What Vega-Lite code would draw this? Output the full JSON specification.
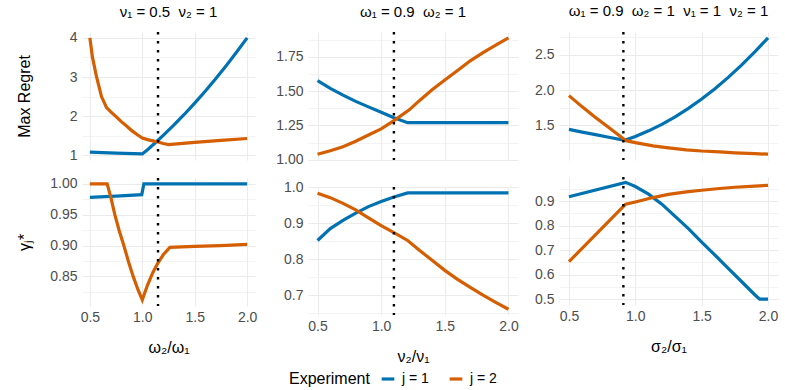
{
  "$schema": "https://vega.github.io/schema/vega-lite/v6.json",
  "padding": {"left": 16, "top": 4, "right": 4, "bottom": 4},
  "background": "white",
  "config": {
    "font": "Liberation Sans",
    "view": {"stroke": null},
    "axis": {"gridColor": "#EBEBEB", "domain": false, "ticks": false, "labelColor": "#4D4D4D", "labelFontSize": 14, "titleFontSize": 16, "titleFontWeight": "normal", "titleColor": "#000000", "labelPadding": 5, "labelOverlap": false, "labelFlush": false},
    "axisX": {"labelPadding": 4},
    "title": {"fontSize": 15, "fontWeight": "normal", "color": "#000000", "anchor": "middle", "frame": "group", "offset": 11},
    "legend": {"orient": "none", "legendX": 207, "legendY": 339, "direction": "horizontal", "titleOrient": "left", "titleFontSize": 16, "titleFontWeight": "normal", "titleColor": "#000000", "labelFontSize": 14, "labelColor": "#000000", "symbolType": "stroke", "symbolStrokeWidth": 3.2, "symbolSize": 160, "columnPadding": 14, "titlePadding": 10, "titleBaseline": "middle", "labelOffset": 6}
  },
  "datasets": {
    "A_top": [
      {"x": 0.5, "y": 1.08, "j": "j = 1"}, {"x": 0.75, "y": 1.055, "j": "j = 1"}, {"x": 1.0, "y": 1.035, "j": "j = 1"},
      {"x": 1.05, "y": 1.144, "j": "j = 1"}, {"x": 1.1, "y": 1.262, "j": "j = 1"}, {"x": 1.15, "y": 1.383, "j": "j = 1"},
      {"x": 1.2, "y": 1.508, "j": "j = 1"}, {"x": 1.3, "y": 1.768, "j": "j = 1"}, {"x": 1.4, "y": 2.043, "j": "j = 1"},
      {"x": 1.5, "y": 2.333, "j": "j = 1"}, {"x": 1.6, "y": 2.637, "j": "j = 1"}, {"x": 1.7, "y": 2.956, "j": "j = 1"},
      {"x": 1.8, "y": 3.29, "j": "j = 1"}, {"x": 1.9, "y": 3.638, "j": "j = 1"}, {"x": 2.0, "y": 4.0, "j": "j = 1"},
      {"x": 0.5, "y": 4.0, "j": "j = 2"}, {"x": 0.525, "y": 3.5, "j": "j = 2"}, {"x": 0.564, "y": 3.0, "j": "j = 2"},
      {"x": 0.611, "y": 2.5, "j": "j = 2"}, {"x": 0.659, "y": 2.22, "j": "j = 2"}, {"x": 0.7, "y": 2.11, "j": "j = 2"},
      {"x": 0.75, "y": 1.99, "j": "j = 2"}, {"x": 0.8, "y": 1.86, "j": "j = 2"}, {"x": 0.85, "y": 1.75, "j": "j = 2"},
      {"x": 0.9, "y": 1.63, "j": "j = 2"}, {"x": 0.95, "y": 1.53, "j": "j = 2"}, {"x": 1.0, "y": 1.44, "j": "j = 2"},
      {"x": 1.05, "y": 1.40, "j": "j = 2"}, {"x": 1.1, "y": 1.37, "j": "j = 2"}, {"x": 1.15, "y": 1.34, "j": "j = 2"},
      {"x": 1.2, "y": 1.30, "j": "j = 2"}, {"x": 1.25, "y": 1.275, "j": "j = 2"}, {"x": 1.5, "y": 1.33, "j": "j = 2"},
      {"x": 1.75, "y": 1.38, "j": "j = 2"}, {"x": 2.0, "y": 1.43, "j": "j = 2"}
    ],
    "A_bot": [
      {"x": 0.5, "y": 0.978, "j": "j = 1"}, {"x": 0.75, "y": 0.980, "j": "j = 1"}, {"x": 0.995, "y": 0.9825, "j": "j = 1"},
      {"x": 1.015, "y": 1.0, "j": "j = 1"}, {"x": 2.0, "y": 1.0, "j": "j = 1"},
      {"x": 0.5, "y": 1.0, "j": "j = 2"}, {"x": 0.665, "y": 1.0, "j": "j = 2"}, {"x": 0.7, "y": 0.978, "j": "j = 2"},
      {"x": 0.738, "y": 0.95, "j": "j = 2"}, {"x": 0.78, "y": 0.924, "j": "j = 2"}, {"x": 0.824, "y": 0.90, "j": "j = 2"},
      {"x": 0.87, "y": 0.873, "j": "j = 2"}, {"x": 0.913, "y": 0.85, "j": "j = 2"}, {"x": 0.96, "y": 0.828, "j": "j = 2"},
      {"x": 1.0, "y": 0.812, "j": "j = 2"}, {"x": 1.05, "y": 0.836, "j": "j = 2"}, {"x": 1.1, "y": 0.856, "j": "j = 2"},
      {"x": 1.15, "y": 0.872, "j": "j = 2"}, {"x": 1.2, "y": 0.885, "j": "j = 2"}, {"x": 1.263, "y": 0.897, "j": "j = 2"},
      {"x": 1.5, "y": 0.8985, "j": "j = 2"}, {"x": 1.75, "y": 0.900, "j": "j = 2"}, {"x": 2.0, "y": 0.902, "j": "j = 2"}
    ],
    "B_top": [
      {"x": 0.5, "y": 1.576, "j": "j = 1"}, {"x": 0.6, "y": 1.52, "j": "j = 1"}, {"x": 0.7, "y": 1.47, "j": "j = 1"},
      {"x": 0.8, "y": 1.425, "j": "j = 1"}, {"x": 0.9, "y": 1.385, "j": "j = 1"}, {"x": 1.0, "y": 1.345, "j": "j = 1"},
      {"x": 1.1, "y": 1.305, "j": "j = 1"}, {"x": 1.208, "y": 1.27, "j": "j = 1"}, {"x": 2.0, "y": 1.27, "j": "j = 1"},
      {"x": 0.5, "y": 1.04, "j": "j = 2"}, {"x": 0.6, "y": 1.065, "j": "j = 2"}, {"x": 0.7, "y": 1.095, "j": "j = 2"},
      {"x": 0.8, "y": 1.135, "j": "j = 2"}, {"x": 0.9, "y": 1.18, "j": "j = 2"}, {"x": 1.0, "y": 1.225, "j": "j = 2"},
      {"x": 1.1, "y": 1.285, "j": "j = 2"}, {"x": 1.221, "y": 1.363, "j": "j = 2"}, {"x": 1.3, "y": 1.43, "j": "j = 2"},
      {"x": 1.4, "y": 1.51, "j": "j = 2"}, {"x": 1.5, "y": 1.58, "j": "j = 2"}, {"x": 1.6, "y": 1.65, "j": "j = 2"},
      {"x": 1.7, "y": 1.72, "j": "j = 2"}, {"x": 1.8, "y": 1.78, "j": "j = 2"}, {"x": 1.9, "y": 1.835, "j": "j = 2"},
      {"x": 2.0, "y": 1.888, "j": "j = 2"}
    ],
    "B_bot": [
      {"x": 0.5, "y": 0.852, "j": "j = 1"}, {"x": 0.6, "y": 0.885, "j": "j = 1"}, {"x": 0.7, "y": 0.908, "j": "j = 1"},
      {"x": 0.8, "y": 0.928, "j": "j = 1"}, {"x": 0.9, "y": 0.946, "j": "j = 1"}, {"x": 1.0, "y": 0.96, "j": "j = 1"},
      {"x": 1.1, "y": 0.973, "j": "j = 1"}, {"x": 1.208, "y": 0.984, "j": "j = 1"}, {"x": 2.0, "y": 0.984, "j": "j = 1"},
      {"x": 0.5, "y": 0.983, "j": "j = 2"}, {"x": 0.6, "y": 0.971, "j": "j = 2"}, {"x": 0.7, "y": 0.955, "j": "j = 2"},
      {"x": 0.8, "y": 0.937, "j": "j = 2"}, {"x": 0.9, "y": 0.915, "j": "j = 2"}, {"x": 1.0, "y": 0.893, "j": "j = 2"},
      {"x": 1.1, "y": 0.874, "j": "j = 2"}, {"x": 1.208, "y": 0.852, "j": "j = 2"}, {"x": 1.3, "y": 0.825, "j": "j = 2"},
      {"x": 1.4, "y": 0.797, "j": "j = 2"}, {"x": 1.5, "y": 0.769, "j": "j = 2"}, {"x": 1.6, "y": 0.744, "j": "j = 2"},
      {"x": 1.7, "y": 0.722, "j": "j = 2"}, {"x": 1.8, "y": 0.70, "j": "j = 2"}, {"x": 1.9, "y": 0.68, "j": "j = 2"},
      {"x": 2.0, "y": 0.661, "j": "j = 2"}
    ],
    "C_top": [
      {"x": 0.5, "y": 1.439, "j": "j = 1"}, {"x": 0.6, "y": 1.40, "j": "j = 1"}, {"x": 0.7, "y": 1.364, "j": "j = 1"},
      {"x": 0.8, "y": 1.326, "j": "j = 1"}, {"x": 0.92, "y": 1.283, "j": "j = 1"}, {"x": 1.0, "y": 1.338, "j": "j = 1"},
      {"x": 1.1, "y": 1.418, "j": "j = 1"}, {"x": 1.2, "y": 1.511, "j": "j = 1"}, {"x": 1.3, "y": 1.618, "j": "j = 1"},
      {"x": 1.4, "y": 1.739, "j": "j = 1"}, {"x": 1.5, "y": 1.873, "j": "j = 1"}, {"x": 1.6, "y": 2.02, "j": "j = 1"},
      {"x": 1.7, "y": 2.181, "j": "j = 1"}, {"x": 1.8, "y": 2.356, "j": "j = 1"}, {"x": 1.9, "y": 2.544, "j": "j = 1"},
      {"x": 2.0, "y": 2.745, "j": "j = 1"},
      {"x": 0.5, "y": 1.92, "j": "j = 2"}, {"x": 0.6, "y": 1.76, "j": "j = 2"}, {"x": 0.7, "y": 1.61, "j": "j = 2"},
      {"x": 0.8, "y": 1.465, "j": "j = 2"}, {"x": 0.93, "y": 1.278, "j": "j = 2"}, {"x": 1.0, "y": 1.25, "j": "j = 2"},
      {"x": 1.133, "y": 1.203, "j": "j = 2"}, {"x": 1.25, "y": 1.175, "j": "j = 2"}, {"x": 1.384, "y": 1.146, "j": "j = 2"},
      {"x": 1.5, "y": 1.13, "j": "j = 2"}, {"x": 1.635, "y": 1.118, "j": "j = 2"}, {"x": 1.75, "y": 1.105, "j": "j = 2"},
      {"x": 1.9, "y": 1.092, "j": "j = 2"}, {"x": 2.0, "y": 1.085, "j": "j = 2"}
    ],
    "C_bot": [
      {"x": 0.5, "y": 0.918, "j": "j = 1"}, {"x": 0.927, "y": 0.977, "j": "j = 1"}, {"x": 1.0, "y": 0.960, "j": "j = 1"},
      {"x": 1.1, "y": 0.929, "j": "j = 1"}, {"x": 1.2, "y": 0.888, "j": "j = 1"}, {"x": 1.3, "y": 0.838, "j": "j = 1"},
      {"x": 1.4, "y": 0.788, "j": "j = 1"}, {"x": 1.5, "y": 0.733, "j": "j = 1"}, {"x": 1.6, "y": 0.68, "j": "j = 1"},
      {"x": 1.7, "y": 0.626, "j": "j = 1"}, {"x": 1.8, "y": 0.572, "j": "j = 1"}, {"x": 1.9, "y": 0.518, "j": "j = 1"},
      {"x": 1.937, "y": 0.5, "j": "j = 1"}, {"x": 2.0, "y": 0.5, "j": "j = 1"},
      {"x": 0.5, "y": 0.653, "j": "j = 2"}, {"x": 0.927, "y": 0.888, "j": "j = 2"}, {"x": 1.0, "y": 0.897, "j": "j = 2"},
      {"x": 1.133, "y": 0.915, "j": "j = 2"}, {"x": 1.25, "y": 0.928, "j": "j = 2"}, {"x": 1.384, "y": 0.938, "j": "j = 2"},
      {"x": 1.5, "y": 0.945, "j": "j = 2"}, {"x": 1.635, "y": 0.952, "j": "j = 2"}, {"x": 1.75, "y": 0.957, "j": "j = 2"},
      {"x": 1.9, "y": 0.962, "j": "j = 2"}, {"x": 2.0, "y": 0.965, "j": "j = 2"}
    ]
  },
  "hconcat": [
    {
      "hconcat": [
        {
          "vconcat": [
            {
              "width": 173, "height": 128,
              "title": {"text": "ν₁ = 0.5 \u00a0ν₂ = 1"},
              "layer": [
                {"data": {"name": "A_top"}, "mark": {"type": "line", "strokeWidth": 3.2},
                 "encoding": {
                   "x": {"field": "x", "type": "quantitative", "scale": {"domain": [0.425, 2.075], "nice": false, "zero": false},
                         "axis": {"title": null, "labels": false, "values": [0.5, 0.75, 1, 1.25, 1.5, 1.75, 2], "gridWidth": {"condition": {"test": "abs(datum.value*2 - round(datum.value*2)) < 0.001", "value": 1.1}, "value": 0.6}}},
                   "y": {"field": "y", "type": "quantitative", "scale": {"domain": [0.88, 4.15], "nice": false, "zero": false},
                         "axis": {"title": "Max Regret", "titlePadding": 14, "minExtent": 36, "maxExtent": 36, "values": [1, 1.5, 2, 2.5, 3, 3.5, 4], "labelExpr": "datum.value % 1 == 0 ? format(datum.value, 'd') : ''", "gridWidth": {"condition": {"test": "datum.value % 1 == 0", "value": 1.1}, "value": 0.6}}},
                   "color": {"field": "j", "type": "nominal", "scale": {"domain": ["j = 1", "j = 2"], "range": ["#0072B2", "#D55E00"]}, "legend": {"title": "Experiment"}}
                 }},
                {"data": {"values": [{"x": 1.15}]}, "mark": {"type": "rule", "color": "black", "strokeWidth": 2.4, "strokeDash": [2.4, 6.6]},
                 "encoding": {"x": {"field": "x", "type": "quantitative"}}}
              ]
            },
            {
              "width": 173, "height": 128,
              "layer": [
                {"data": {"name": "A_bot"}, "mark": {"type": "line", "strokeWidth": 3.2},
                 "encoding": {
                   "x": {"field": "x", "type": "quantitative", "scale": {"domain": [0.425, 2.075], "nice": false, "zero": false},
                         "axis": {"title": "ω₂/ω₁", "titlePadding": 15, "values": [0.5, 0.75, 1, 1.25, 1.5, 1.75, 2], "labelExpr": "abs(datum.value*2 - round(datum.value*2)) < 0.001 ? format(datum.value, '.1f') : ''", "gridWidth": {"condition": {"test": "abs(datum.value*2 - round(datum.value*2)) < 0.001", "value": 1.1}, "value": 0.6}}},
                   "y": {"field": "y", "type": "quantitative", "scale": {"domain": [0.802, 1.0095], "nice": false, "zero": false},
                         "axis": {"title": "γⱼ*", "titlePadding": 14, "minExtent": 36, "maxExtent": 36, "values": [0.825, 0.85, 0.875, 0.9, 0.925, 0.95, 0.975, 1.0], "labelExpr": "abs(datum.value*20 - round(datum.value*20)) < 0.001 ? format(datum.value, '.2f') : ''", "gridWidth": {"condition": {"test": "abs(datum.value*20 - round(datum.value*20)) < 0.001", "value": 1.1}, "value": 0.6}}},
                   "color": {"field": "j", "type": "nominal", "scale": {"domain": ["j = 1", "j = 2"], "range": ["#0072B2", "#D55E00"]}, "legend": {"title": "Experiment"}}
                 }},
                {"data": {"values": [{"x": 1.15}]}, "mark": {"type": "rule", "color": "black", "strokeWidth": 2.4, "strokeDash": [2.4, 6.6]},
                 "encoding": {"x": {"field": "x", "type": "quantitative"}}}
              ]
            }
          ],
          "spacing": 13
        }
      ]
    },
    {
      "hconcat": [
        {
          "vconcat": [
            {
              "width": 210, "height": 128,
              "title": {"text": "ω₁ = 0.9 \u00a0ω₂ = 1"},
              "layer": [
                {"data": {"name": "B_top"}, "mark": {"type": "line", "strokeWidth": 3.2},
                 "encoding": {
                   "x": {"field": "x", "type": "quantitative", "scale": {"domain": [0.425, 2.075], "nice": false, "zero": false},
                         "axis": {"title": null, "labels": false, "values": [0.5, 0.75, 1, 1.25, 1.5, 1.75, 2], "gridWidth": {"condition": {"test": "abs(datum.value*2 - round(datum.value*2)) < 0.001", "value": 1.1}, "value": 0.6}}},
                   "y": {"field": "y", "type": "quantitative", "scale": {"domain": [0.998, 1.93], "nice": false, "zero": false},
                         "axis": {"title": null, "values": [1, 1.125, 1.25, 1.375, 1.5, 1.625, 1.75, 1.875], "labelExpr": "abs(datum.value*4 - round(datum.value*4)) < 0.001 ? format(datum.value, '.2f') : ''", "gridWidth": {"condition": {"test": "abs(datum.value*4 - round(datum.value*4)) < 0.001", "value": 1.1}, "value": 0.6}}},
                   "color": {"field": "j", "type": "nominal", "scale": {"domain": ["j = 1", "j = 2"], "range": ["#0072B2", "#D55E00"]}, "legend": {"title": "Experiment"}}
                 }},
                {"data": {"values": [{"x": 1.1}]}, "mark": {"type": "rule", "color": "black", "strokeWidth": 2.4, "strokeDash": [2.4, 6.6]},
                 "encoding": {"x": {"field": "x", "type": "quantitative"}}}
              ]
            },
            {
              "width": 210, "height": 128,
              "layer": [
                {"data": {"name": "B_bot"}, "mark": {"type": "line", "strokeWidth": 3.2},
                 "encoding": {
                   "x": {"field": "x", "type": "quantitative", "scale": {"domain": [0.425, 2.075], "nice": false, "zero": false},
                         "axis": {"title": "ν₂/ν₁", "titlePadding": 15, "values": [0.5, 0.75, 1, 1.25, 1.5, 1.75, 2], "labelExpr": "abs(datum.value*2 - round(datum.value*2)) < 0.001 ? format(datum.value, '.1f') : ''", "gridWidth": {"condition": {"test": "abs(datum.value*2 - round(datum.value*2)) < 0.001", "value": 1.1}, "value": 0.6}}},
                   "y": {"field": "y", "type": "quantitative", "scale": {"domain": [0.645, 1.0005], "nice": false, "zero": false},
                         "axis": {"title": null, "values": [0.65, 0.7, 0.75, 0.8, 0.85, 0.9, 0.95, 1.0], "labelExpr": "abs(datum.value*10 - round(datum.value*10)) < 0.001 ? format(datum.value, '.1f') : ''", "gridWidth": {"condition": {"test": "abs(datum.value*10 - round(datum.value*10)) < 0.001", "value": 1.1}, "value": 0.6}}},
                   "color": {"field": "j", "type": "nominal", "scale": {"domain": ["j = 1", "j = 2"], "range": ["#0072B2", "#D55E00"]}, "legend": {"title": "Experiment"}}
                 }},
                {"data": {"values": [{"x": 1.1}]}, "mark": {"type": "rule", "color": "black", "strokeWidth": 2.4, "strokeDash": [2.4, 6.6]},
                 "encoding": {"x": {"field": "x", "type": "quantitative"}}}
              ]
            }
          ],
          "spacing": 13
        },
        {
          "vconcat": [
            {
              "width": 219, "height": 128,
              "title": {"text": "ω₁ = 0.9 \u00a0ω₂ = 1 \u00a0ν₁ = 1 \u00a0ν₂ = 1"},
              "layer": [
                {"data": {"name": "C_top"}, "mark": {"type": "line", "strokeWidth": 3.2},
                 "encoding": {
                   "x": {"field": "x", "type": "quantitative", "scale": {"domain": [0.425, 2.075], "nice": false, "zero": false},
                         "axis": {"title": null, "labels": false, "values": [0.5, 0.75, 1, 1.25, 1.5, 1.75, 2], "gridWidth": {"condition": {"test": "abs(datum.value*2 - round(datum.value*2)) < 0.001", "value": 1.1}, "value": 0.6}}},
                   "y": {"field": "y", "type": "quantitative", "scale": {"domain": [1.002, 2.828], "nice": false, "zero": false},
                         "axis": {"title": null, "values": [1.25, 1.5, 1.75, 2, 2.25, 2.5, 2.75], "labelExpr": "abs(datum.value*2 - round(datum.value*2)) < 0.001 ? format(datum.value, '.1f') : ''", "gridWidth": {"condition": {"test": "abs(datum.value*2 - round(datum.value*2)) < 0.001", "value": 1.1}, "value": 0.6}}},
                   "color": {"field": "j", "type": "nominal", "scale": {"domain": ["j = 1", "j = 2"], "range": ["#0072B2", "#D55E00"]}, "legend": {"title": "Experiment"}}
                 }},
                {"data": {"values": [{"x": 0.91}]}, "mark": {"type": "rule", "color": "black", "strokeWidth": 2.4, "strokeDash": [2.4, 6.6]},
                 "encoding": {"x": {"field": "x", "type": "quantitative"}}}
              ]
            },
            {
              "width": 219, "height": 128,
              "layer": [
                {"data": {"name": "C_bot"}, "mark": {"type": "line", "strokeWidth": 3.2},
                 "encoding": {
                   "x": {"field": "x", "type": "quantitative", "scale": {"domain": [0.425, 2.075], "nice": false, "zero": false},
                         "axis": {"title": "σ₂/σ₁", "titlePadding": 15, "values": [0.5, 0.75, 1, 1.25, 1.5, 1.75, 2], "labelExpr": "abs(datum.value*2 - round(datum.value*2)) < 0.001 ? format(datum.value, '.1f') : ''", "gridWidth": {"condition": {"test": "abs(datum.value*2 - round(datum.value*2)) < 0.001", "value": 1.1}, "value": 0.6}}},
                   "y": {"field": "y", "type": "quantitative", "scale": {"domain": [0.476, 0.999], "nice": false, "zero": false},
                         "axis": {"title": null, "values": [0.5, 0.55, 0.6, 0.65, 0.7, 0.75, 0.8, 0.85, 0.9, 0.95], "labelExpr": "abs(datum.value*10 - round(datum.value*10)) < 0.001 ? format(datum.value, '.1f') : ''", "gridWidth": {"condition": {"test": "abs(datum.value*10 - round(datum.value*10)) < 0.001", "value": 1.1}, "value": 0.6}}},
                   "color": {"field": "j", "type": "nominal", "scale": {"domain": ["j = 1", "j = 2"], "range": ["#0072B2", "#D55E00"]}, "legend": {"title": "Experiment"}}
                 }},
                {"data": {"values": [{"x": 0.91}]}, "mark": {"type": "rule", "color": "black", "strokeWidth": 2.4, "strokeDash": [2.4, 6.6]},
                 "encoding": {"x": {"field": "x", "type": "quantitative"}}}
              ]
            }
          ],
          "spacing": 13
        }
      ],
      "spacing": 15
    }
  ],
  "spacing": 18
}
